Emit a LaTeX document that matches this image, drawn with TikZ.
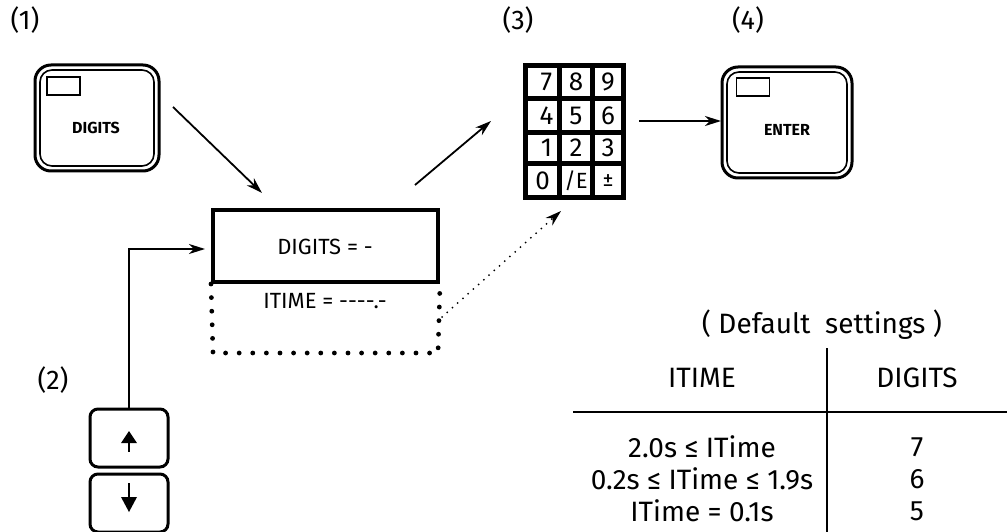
\documentclass[tikz,border=0pt]{standalone}
\usepackage{fontspec}
\setmainfont{Fira Sans}
\usetikzlibrary{arrows.meta}
\begin{document}
\begin{tikzpicture}[x=1pt,y=-1pt,
  lbl/.style={font=\fontsize{27}{30}\selectfont},
  keyouter/.style={draw,line width=3pt,rounded corners=16pt,inner sep=0pt,minimum width=124pt,minimum height=106pt},
  keyinner/.style={draw,line width=1.6pt,rounded corners=12pt,inner sep=0pt,minimum width=114pt,minimum height=96pt},
  lamp/.style={draw,line width=1.3pt,inner sep=0pt,minimum width=33pt,minimum height=18pt},
  keytxt/.style={font=\bfseries\fontsize{16}{18}\selectfont},
  boxtxt/.style={font=\fontsize{22}{24}\selectfont},
  tbl/.style={font=\fontsize{28}{30}\selectfont},
  kcell/.style={fill=white,inner sep=0pt,font=\fontsize{26}{28}\selectfont},
  arrowkey/.style={draw,line width=3pt,rounded corners=8pt,inner sep=0pt,minimum width=78pt,minimum height=58pt},
  arr/.style={line width=1.8pt,-{Stealth[length=16pt,width=10pt,inset=5pt]}},
  darr/.style={line width=2pt,dash pattern=on 0pt off 7pt,line cap=round,-{Stealth[length=16pt,width=10pt,inset=5pt,line cap=butt]}},
  tline/.style={line width=1.6pt}
]
\useasboundingbox (0,0) rectangle (1007,532);

% step labels
\node[lbl] (l1) at (25,20) {(1)};
\node[lbl] (l2) at (53,380) {(2)};
\node[lbl] (l3) at (518,20) {(3)};
\node[lbl] (l4) at (748,20) {(4)};

% DIGITS key
\node[keyouter] (k1o) at (97,118) {};
\node[keyinner] (k1i) at (97,118) {};
\node[lamp] (k1l) at (63.5,86) {};
\node[keytxt] (k1t) at (96,128) {DIGITS};

% ENTER key
\node[keyouter,minimum width=130pt,minimum height=111pt] (k4o) at (787,122.5) {};
\node[keyinner,minimum width=120pt,minimum height=101pt] (k4i) at (787,122.5) {};
\node[lamp] (k4l) at (753,87) {};
\node[keytxt] (k4t) at (787,130) {ENTER};

% DIGITS = box
\node[draw,line width=4pt,inner sep=0pt,minimum width=225pt,minimum height=72pt] (dbox) at (325.5,246) {};
\node[boxtxt] (dtxt) at (325,247) {DIGITS = -};
% ITIME dotted box
\draw[line width=4.8pt,line cap=round,dash pattern=on 0pt off 13.6pt] (dbox.south west) -- (213,353) -- (438,353) -- (dbox.south east);
\node[boxtxt] (itxt) at (325,301) {ITIME = -{}-{}-{}-{}.-};

% keypad
\node[fill=black,inner sep=0pt,minimum width=103pt,minimum height=137pt] (kp) at (574.5,131.5) {};
\foreach \ya/\yb [count=\i] in {68/96,101/130,135/161,166/195}{
  \foreach \xa/\xb [count=\j] in {528/557,562/590,595/621}{
    \node[kcell,minimum width={\xb-\xa},minimum height={\yb-\ya}] (c\i\j) at ({(\xa+\xb)/2},{(\ya+\yb)/2}) {};
  }
}
\node[kcell,fill=none] at ([xshift=4pt]c11) {7};
\node[kcell,fill=none] at (c12) {8};
\node[kcell,fill=none] at (c13) {9};
\node[kcell,fill=none] at ([xshift=4pt]c21) {4};
\node[kcell,fill=none] at (c22) {5};
\node[kcell,fill=none] at (c23) {6};
\node[kcell,fill=none] at ([xshift=4pt]c31) {1};
\node[kcell,fill=none] at (c32) {2};
\node[kcell,fill=none] at (c33) {3};
\node[kcell,fill=none] at (c41) {0};
\node[kcell,fill=none,font=\fontsize{22}{24}\selectfont] at (c42) {/E};
\node[kcell,fill=none,font=\fontsize{22}{24}\selectfont] at (c43) {±};

% up / down keys
\node[arrowkey] (up) at (129,438) {};
\node[arrowkey] (dn) at (129,503) {};
\fill (129,431) -- (137,443) -- (121,443) -- cycle;
\draw[line width=1.6pt] (129,442) -- (129,452);
\fill (129,512) -- (137,497) -- (121,497) -- cycle;
\draw[line width=1.6pt] (129,483) -- (129,498);

% connectors
\coordinate (a1s) at (173,107);
\coordinate (a1e) at (262,193);
\draw[arr] (a1s) -- (a1e);
\coordinate (a2e) at (205,249);
\draw[arr] (up.north) -- (129,249) -- (a2e);
\coordinate (a3s) at (415,185);
\coordinate (a3e) at (491,121);
\draw[arr] (a3s) -- (a3e);
\coordinate (a4s) at (639,121);
\coordinate (a4e) at (721,121);
\draw[arr] (a4s) -- (a4e);
\coordinate (a5s) at (442,317);
\coordinate (a5e) at (561,211);
\draw[darr] (a5s) -- (a5e);

% table
\node[tbl] (dflt) at (822,325) {( Default\ \ settings )};
\draw[tline] (827,348) -- (827,532);
\draw[tline] (573,412) -- (1007,412);
\node[tbl] (h1) at (702,378) {ITIME};
\node[tbl] (h2) at (917,378) {DIGITS};
\node[tbl] (r1a) at (702,447) {2.0s ≤ ITime};
\node[tbl] (r2a) at (702,479) {0.2s ≤ ITime ≤ 1.9s};
\node[tbl] (r3a) at (702,511) {ITime = 0.1s};
\node[tbl] (r1b) at (917,447) {7};
\node[tbl] (r2b) at (917,479) {6};
\node[tbl] (r3b) at (917,511) {5};
\end{tikzpicture}
\end{document}
